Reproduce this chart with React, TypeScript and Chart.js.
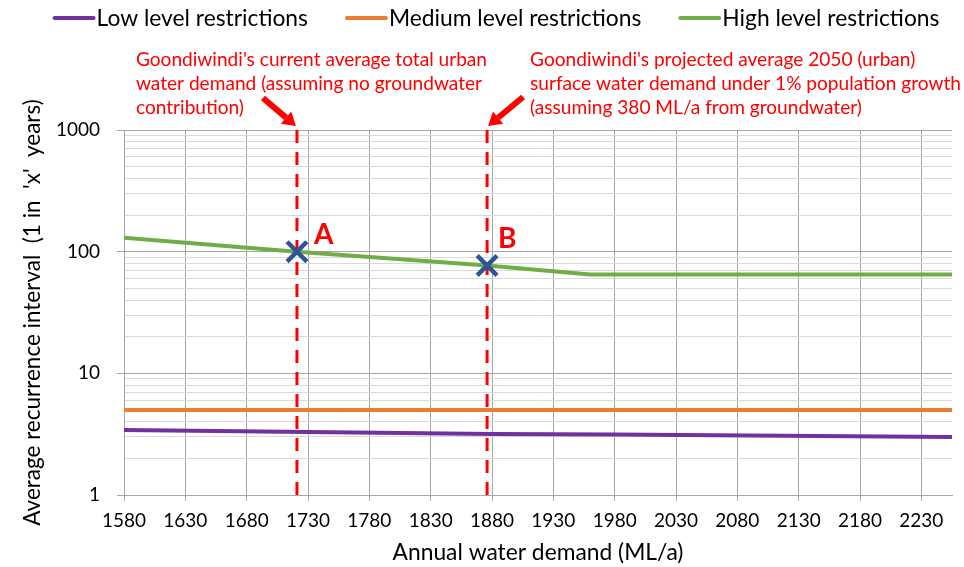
import React, { useEffect, useRef } from 'react';
import { Chart, registerables } from 'chart.js';

Chart.register(...registerables);

// ---------- data ----------
const xTickValues = [1580, 1630, 1680, 1730, 1780, 1830, 1880, 1930, 1980, 2030, 2080, 2130, 2180, 2230];
const xMin = 1580;
const xMax = 2255;
const yDecades = [1, 10, 100, 1000];

const seriesLabels = ['Low level restrictions', 'Medium level restrictions', 'High level restrictions'];
const seriesColors = ['#7030A0', '#ED7D31', '#70AD47'];

const lowDemand = [1580, 1880, 1980, 2255];
const lowInterval = [3.42, 3.17, 3.14, 3.0];
const mediumDemand = [1580, 2255];
const mediumInterval = [5, 5];
const highDemand = [1580, 1721, 1876, 1960, 2255];
const highInterval = [130, 100, 77, 65, 65];

const markerDemand = [1721, 1876];
const markerInterval = [100, 77];
const markerLabels = ['A', 'B'];

const annotationA = [
  "Goondiwindi's current average total urban",
  'water demand (assuming no groundwater',
  'contribution)',
];
const annotationB = [
  "Goondiwindi's projected average 2050 (urban)",
  'surface water demand under 1% population growth',
  '(assuming 380 ML/a from groundwater)',
];

const xTitle = 'Annual water demand (ML/a)';
const yTitle = "Average recurrence interval  (1 in  'x'  years)";

// ---------- helpers ----------
const FONT = 'Lato, "Open Sans", "DejaVu Sans", sans-serif';
const toPoints = (xs: number[], ys: number[]) => xs.map((x, i) => ({ x, y: ys[i] }));
const isDecade = (v: number) => yDecades.includes(v);

const overlayPlugin = {
  id: 'overlay',
  afterDatasetsDraw(chart: any) {
    const ctx = chart.ctx;
    const meta = chart.getDatasetMeta(chart.data.datasets.findIndex((d: any) => d.isMarker));
    const offsets = [
      [17, -8],
      [11, -17],
    ];
    ctx.save();
    ctx.fillStyle = '#FF0000';
    ctx.font = `bold 28px ${FONT}`;
    ctx.textAlign = 'left';
    ctx.textBaseline = 'alphabetic';
    meta.data.forEach((pt: any, i: number) => {
      ctx.fillText(markerLabels[i], pt.x + offsets[i][0], pt.y + offsets[i][1]);
    });
    ctx.restore();
  },
  afterDraw(chart: any) {
    const ctx = chart.ctx;
    const xs = chart.scales.x;
    const top = chart.chartArea.top;
    const xA = xs.getPixelForValue(markerDemand[0]);
    const xB = xs.getPixelForValue(markerDemand[1]);

    // legend
    ctx.save();
    ctx.font = `22.8px ${FONT}`;
    const items = chart.data.datasets.filter((d: any) => d.inLegend);
    const lineW = 43, gapText = 1, gapItem = 37;
    const widths = items.map((d: any) => ctx.measureText(d.label).width);
    const total = widths.reduce((a: number, w: number) => a + lineW + gapText + w, 0) + gapItem * (items.length - 1);
    let lx = 496 - total / 2;
    const ly = 18;
    items.forEach((d: any, i: number) => {
      ctx.strokeStyle = d.borderColor;
      ctx.lineWidth = 4;
      ctx.lineCap = 'round';
      ctx.beginPath();
      ctx.moveTo(lx + 2, ly);
      ctx.lineTo(lx + lineW - 2, ly);
      ctx.stroke();
      ctx.fillStyle = '#000';
      ctx.textBaseline = 'middle';
      ctx.textAlign = 'left';
      ctx.fillText(d.label, lx + lineW + gapText, ly + 1);
      lx += lineW + gapText + widths[i] + gapItem;
    });
    ctx.restore();

    // annotations
    ctx.save();
    ctx.fillStyle = '#FF0000';
    ctx.font = `19.1px ${FONT}`;
    ctx.textAlign = 'left';
    ctx.textBaseline = 'alphabetic';
    annotationA.forEach((t, i) => ctx.fillText(t, xA - 161, top - 64 + i * 24));
    annotationB.forEach((t, i) => ctx.fillText(t, xB + 43, top - 64 + i * 24));
    ctx.restore();

    // arrows
    const arrow = (x1: number, y1: number, x2: number, y2: number) => {
      const ang = Math.atan2(y2 - y1, x2 - x1);
      const head = 13, hw = 8;
      const bx = x2 - Math.cos(ang) * head;
      const by = y2 - Math.sin(ang) * head;
      ctx.strokeStyle = '#FF0000';
      ctx.fillStyle = '#FF0000';
      ctx.lineWidth = 6;
      ctx.lineCap = 'butt';
      ctx.beginPath();
      ctx.moveTo(x1, y1);
      ctx.lineTo(bx, by);
      ctx.stroke();
      ctx.beginPath();
      ctx.moveTo(x2, y2);
      ctx.lineTo(bx + Math.sin(ang) * hw, by - Math.cos(ang) * hw);
      ctx.lineTo(bx - Math.sin(ang) * hw, by + Math.cos(ang) * hw);
      ctx.closePath();
      ctx.fill();
    };
    ctx.save();
    arrow(xA - 34, top - 32, xA - 1, top - 4);
    arrow(xB + 36, top - 33, xB + 1, top - 4);
    ctx.restore();
  },
};

export default function App() {
  const ref = useRef<HTMLCanvasElement>(null);

  useEffect(() => {
    document.body.style.margin = '0';
    const lows = [toPoints(lowDemand, lowInterval), toPoints(mediumDemand, mediumInterval), toPoints(highDemand, highInterval)];
    const datasets: any[] = [
      {
        label: 'markers',
        isMarker: true,
        data: toPoints(markerDemand, markerInterval),
        showLine: false,
        pointStyle: 'crossRot',
        pointRadius: 14,
        pointBorderWidth: 4.5,
        pointBorderColor: '#2F5597',
        pointBackgroundColor: '#2F5597',
        borderColor: '#2F5597',
        order: 0,
      },
      ...markerDemand.map((x) => ({
        label: 'ref',
        data: [
          { x, y: yDecades[0] },
          { x, y: yDecades[yDecades.length - 1] },
        ],
        borderColor: '#FF0000',
        borderWidth: 3,
        borderDash: [13, 9],
        pointRadius: 0,
        order: 1,
      })),
      ...seriesLabels.map((label, i) => ({
        label,
        inLegend: true,
        data: lows[i],
        borderColor: seriesColors[i],
        backgroundColor: seriesColors[i],
        borderWidth: 4,
        pointRadius: 0,
        tension: 0,
        order: 2,
      })),
    ];

    const chart = new Chart(ref.current as HTMLCanvasElement, {
      type: 'line',
      data: { datasets },
      plugins: [overlayPlugin],
      options: {
        responsive: false,
        animation: false,
        layout: { autoPadding: false, padding: { top: 130, right: 12, left: 0, bottom: 0 } },
        plugins: { legend: { display: false }, tooltip: { enabled: false } },
        scales: {
          x: {
            type: 'linear',
            min: xMin,
            max: xMax,
            afterBuildTicks: (s: any) => {
              s.ticks = xTickValues.map((v) => ({ value: v }));
            },
            afterFit: (s: any) => {
              s.height = 72;
              s.paddingLeft = 0;
              s.paddingRight = 0;
            },
            ticks: {
              autoSkip: false,
              maxRotation: 0,
              padding: 8,
              color: '#000',
              font: { family: FONT, size: 19 },
              callback: (v: any) => String(v),
            },
            grid: { color: '#A6A6A6', tickLength: 6, tickColor: '#A6A6A6', lineWidth: 1 },
            border: { color: '#A6A6A6' },
            title: {
              display: true,
              text: xTitle,
              color: '#000',
              font: { family: FONT, size: 22.8 },
              padding: { top: 0, bottom: 1 },
            },
          },
          y: {
            type: 'logarithmic',
            min: yDecades[0],
            max: yDecades[yDecades.length - 1],
            afterBuildTicks: (s: any) => {
              const t: any[] = [];
              yDecades.forEach((base, d) => {
                if (d === yDecades.length - 1) t.push({ value: base });
                else for (let m = 1; m < 10; m++) t.push({ value: base * m });
              });
              s.ticks = t;
            },
            afterFit: (s: any) => {
              s.width = 124;
            },
            ticks: {
              autoSkip: false,
              padding: 17,
              color: '#000',
              font: { family: FONT, size: 19 },
              callback: (v: any) => (isDecade(Number(v)) ? String(v) : ''),
            },
            grid: {
              color: (c: any) => (c.tick && isDecade(c.tick.value) ? '#A6A6A6' : '#D9D9D9'),
              tickColor: (c: any) => (c.tick && isDecade(c.tick.value) ? '#A6A6A6' : 'rgba(0,0,0,0)'),
              tickLength: 7,
              lineWidth: 1,
            },
            border: { color: '#A6A6A6' },
            title: {
              display: true,
              text: yTitle,
              color: '#000',
              font: { family: FONT, size: 22.5 },
              padding: { top: 19.5, bottom: 0 },
            },
          },
        },
      } as any,
    });
    return () => chart.destroy();
  }, []);

  return (
    <div style={{ width: 964, height: 567, background: '#fff' }}>
      <canvas ref={ref} width={964} height={567} style={{ display: 'block' }} />
    </div>
  );
}
